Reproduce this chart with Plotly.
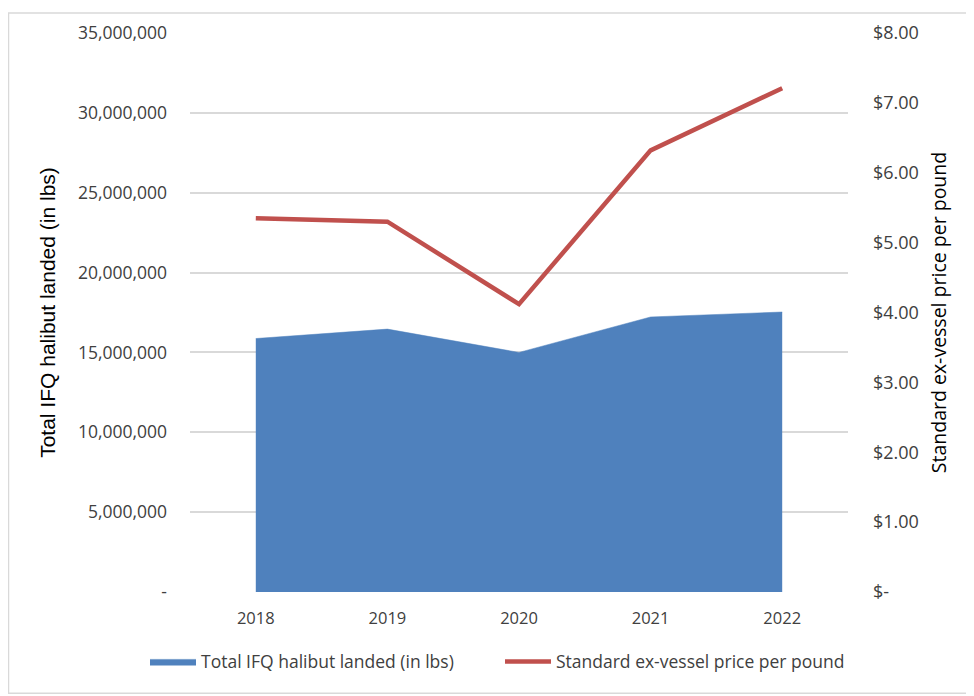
import plotly.graph_objects as go

years = ["2018", "2019", "2020", "2021", "2022"]
landed_lbs = [15870000, 16460000, 15000000, 17220000, 17530000]
price_per_lb = [5.35, 5.30, 4.12, 6.32, 7.21]

left_tickvals = [0, 5e6, 10e6, 15e6, 20e6, 25e6, 30e6, 35e6]
left_ticktext = ["-", "5,000,000", "10,000,000", "15,000,000", "20,000,000",
                 "25,000,000", "30,000,000", "35,000,000"]
right_tickvals = [0, 1, 2, 3, 4, 5, 6, 7, 8]
right_ticktext = ["$-", "$1.00", "$2.00", "$3.00", "$4.00", "$5.00", "$6.00", "$7.00", "$8.00"]

TXT = "#404040"
GRID = "#D9D9D9"
FONT = "Open Sans"

fig = go.Figure()
fig.add_trace(go.Scatter(
    x=years, y=landed_lbs, name="Total IFQ halibut landed (in lbs)",
    mode="lines", fill="tozeroy", fillcolor="#4F81BD",
    line=dict(color="#4F81BD", width=0.5), yaxis="y"))
fig.add_trace(go.Scatter(
    x=years, y=price_per_lb, name="Standard ex-vessel price per pound",
    mode="lines", line=dict(color="#C0504D", width=4.5), yaxis="y2"))

OFF = 8  # page body margin
W, H = 974 - OFF, 696 - OFF
L, R, T, B = 190 - OFF, 974 - 848, 29 - OFF, 696 - 592
pw, ph = W - L - R, H - T - B


def px(xpage):
    return (xpage - OFF - L) / pw


def py(ypage):
    return (592 - ypage) / ph


fig.update_layout(
    width=W, height=H,
    margin=dict(l=L, r=R, t=T, b=B, pad=0),
    paper_bgcolor="white", plot_bgcolor="white",
    font=dict(family=FONT, size=16, color=TXT),
    showlegend=True,
    legend=dict(orientation="h", x=px(145), xanchor="left",
                y=py(662), yanchor="middle",
                font=dict(family=FONT, size=17.5, color=TXT),
                itemwidth=46,
                entrywidth=294, entrywidthmode="pixels",
                bgcolor="rgba(0,0,0,0)"),
    xaxis=dict(type="category", range=[-0.5, 4.5], showgrid=False,
               showline=False, zeroline=False, ticks="",
               tickfont=dict(family=FONT, size=16.5, color=TXT),
               ticklabelstandoff=14),
    yaxis=dict(range=[0, 35e6], tickvals=left_tickvals, ticktext=left_ticktext,
               showgrid=True, gridcolor=GRID, gridwidth=1.5,
               zeroline=False, showline=False, ticks="",
               tickfont=dict(family=FONT, size=17.5, color=TXT),
               ticklabelstandoff=22,
               title=dict(text="Total IFQ halibut landed (in lbs)",
                          font=dict(family="Liberation Sans", size=21, color="#000000"),
                          standoff=16)),
    yaxis2=dict(range=[0, 8], tickvals=right_tickvals, ticktext=right_ticktext,
                overlaying="y", side="right", showgrid=False,
                zeroline=False, showline=False, ticks="",
                tickfont=dict(family=FONT, size=18, color=TXT),
                ticklabelstandoff=24,
                title=dict(text="Standard ex-vessel price per pound",
                           font=dict(family=FONT, size=19.5, color="#000000"),
                           standoff=14)),
    shapes=[dict(type="rect", xref="paper", yref="paper",
                 x0=px(8.5), x1=px(980),
                 y0=py(694), y1=py(8.8),
                 line=dict(color=GRID, width=1.5), layer="below")],
)

fig.write_html("out.html")
